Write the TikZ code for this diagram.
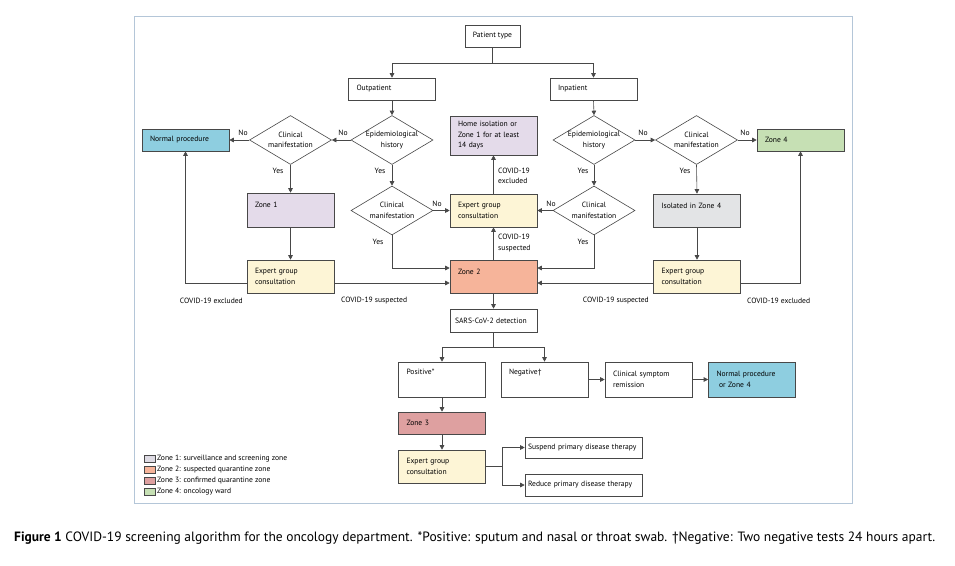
\documentclass[tikz,border=0pt]{standalone}
\usepackage{fontspec}
\setmainfont{PT Sans}
\usetikzlibrary{shapes.geometric,arrows.meta}

\definecolor{zoneone}{RGB}{228,219,234}
\definecolor{zonetwo}{RGB}{246,180,154}
\definecolor{zonethree}{RGB}{222,160,160}
\definecolor{zonefour}{RGB}{198,224,180}
\definecolor{normal}{RGB}{142,206,224}
\definecolor{expert}{RGB}{253,245,214}
\definecolor{isolated}{RGB}{227,228,230}
\definecolor{legone}{RGB}{222,219,228}
\definecolor{framecol}{RGB}{180,198,216}
\definecolor{ink}{RGB}{72,72,72}

\tikzset{
  box/.style={draw=ink, fill=white, line width=0.6pt, rectangle, minimum height=22, inner xsep=8, inner ysep=0, align=left},
  wbox/.style={box, text width=71, minimum width=87},
  upper/.style={text depth=10pt},
  dia/.style={draw=ink, fill=white, line width=0.6pt, diamond, aspect=1.67, minimum width=82, minimum height=49, inner sep=0, align=center},
  arr/.style={draw=ink, line width=0.6pt, -{Triangle[length=4.5pt,width=4.5pt]}},
  lab/.style={inner sep=1, align=left},
  leg/.style={draw=ink, line width=0.5pt, minimum width=11, minimum height=7, inner sep=0}
}

\begin{document}
\begin{tikzpicture}[x=1pt, y=-1pt, font=\fontsize{7.6}{10.5}\selectfont]
    \useasboundingbox (0,0) rectangle (955,565);
    \draw[framecol, line width=0.8pt] (134,16) rectangle (852,503);

    \node[box] (pt) at (492.5,36) {Patient type};
    \node[wbox] (op) at (392,89) {Outpatient};
    \node[wbox] (ip) at (593.5,89) {Inpatient};
    \coordinate (pj) at (492.5,63);
    \draw[draw=ink, line width=0.6pt] (pt.south) -- (pj);
    \draw[arr] (pj) -| (op.north);
    \draw[arr] (pj) -| (ip.north);

    \node[dia] (e1) at (392,140) {Epidemiological\\history};
    \node[dia] (c1) at (290.5,140) {Clinical\\manifestation};
    \node[wbox, fill=normal] (np) at (185.5,140) {Normal procedure};
    \node[wbox, fill=zoneone, minimum height=34, upper] (z1) at (290.5,210) {Zone 1};
    \node[dia] (c2) at (392,210.5) {Clinical\\manifestation};
    \node[wbox, fill=expert, minimum height=33] (ex1) at (290.5,276.5) {Expert group\\consultation};
    \draw[arr] (op.south) -- (e1.north);
    \draw[arr] (e1.west) -- (c1.east);
    \draw[arr] (c1.west) -- (np.east);
    \draw[arr] (c1.south) -- (z1.north);
    \draw[arr] (e1.south) -- (c2.north);
    \draw[arr] (z1.south) -- (ex1.north);
    \node[lab] (n1) at (343,133) {No};
    \node[lab] (n2) at (243,133) {No};
    \node[lab] (y1) at (278,171) {Yes};
    \node[lab] (y2) at (380,171) {Yes};
    \node[lab] (y3) at (378,242) {Yes};

    \node[wbox, fill=zoneone, minimum height=39] (ho) at (493.5,135.5) {Home isolation or\\Zone 1 for at least\\14 days};
    \node[wbox, fill=expert, minimum height=33] (ex2) at (493.5,210.5) {Expert group\\consultation};
    \node[wbox, fill=zonetwo, minimum height=33, text depth=9pt] (z2) at (493.5,276.5) {Zone 2};
    \node[box, fill=white, text width=77, minimum width=87, inner xsep=5, minimum height=23] (sd) at (493.5,320.5) {SARS-CoV-2 detection};
    \draw[arr] (ex2.north) -- (ho.south);
    \draw[arr] (z2.north) -- (ex2.south);
    \draw[arr] (z2.south) -- (sd.north);
    \node[lab, anchor=west] (x1) at (497,176) {COVID-19\\excluded};
    \node[lab, anchor=west] (s1) at (497,243) {COVID-19\\suspected};
    \node[lab] (n3) at (437,204) {No};
    \node[lab] (n4) at (551,204) {No};
    \draw[arr] (c2.east) -- (ex2.west);
    \draw[arr] (c2.south) |- ([yshift=8.5pt]z2.west);
    \draw[arr] ([yshift=-6.5pt]ex1.east) -- ([yshift=-6.5pt]z2.west);
    \draw[arr] ([yshift=-6.5pt]ex1.west) -| (np.south);
    \node[lab, anchor=east] (x2) at (244,301) {COVID-19 excluded};
    \node[lab, anchor=west] (s2) at (340,301) {COVID-19 suspected};

    \node[dia] (e3) at (594,140) {Epidemiological\\history};
    \node[dia] (c3) at (696.5,140) {Clinical\\manifestation};
    \node[wbox, fill=zonefour] (z4) at (800.5,140) {Zone 4};
    \node[dia] (c4) at (594,210.5) {Clinical\\manifestation};
    \node[wbox, fill=isolated, minimum height=33, text depth=9pt] (iz) at (697,210.5) {Isolated in Zone 4};
    \node[wbox, fill=expert, minimum height=33] (ex3) at (697,276.5) {Expert group\\consultation};
    \draw[arr] (ip.south) -- (e3.north);
    \draw[arr] (e3.east) -- (c3.west);
    \draw[arr] (c3.east) -- (z4.west);
    \draw[arr] (e3.south) -- (c4.north);
    \draw[arr] (c3.south) -- (iz.north);
    \draw[arr] (iz.south) -- (ex3.north);
    \draw[arr] (c4.west) -- (ex2.east);
    \draw[arr] (c4.south) |- ([yshift=8.5pt]z2.east);
    \draw[arr] ([yshift=-6.5pt]ex3.west) -- ([yshift=-6.5pt]z2.east);
    \draw[arr] ([yshift=-6.5pt]ex3.east) -| (z4.south);
    \node[lab] (n5) at (643,133) {No};
    \node[lab] (n6) at (745,133) {No};
    \node[lab] (y4) at (583,171) {Yes};
    \node[lab] (y5) at (685,171) {Yes};
    \node[lab] (y6) at (583,242) {Yes};
    \node[lab, anchor=east] (s3) at (650,301) {COVID-19 suspected};
    \node[lab, anchor=west] (x3) at (746,301) {COVID-19 excluded};

    \node[wbox, minimum height=35, text depth=15pt] (pos) at (442,379.5) {Positive*};
    \node[wbox, minimum height=35, text depth=15pt] (neg) at (544.5,379.5) {Negative\textdagger};
    \node[wbox, minimum height=35] (rem) at (648.5,379.5) {Clinical symptom\\remission};
    \node[wbox, fill=normal, minimum height=35] (nz) at (752,379.5) {Normal procedure\\\ or Zone 4};
    \coordinate (sj) at (493.5,347);
    \draw[draw=ink, line width=0.6pt] (sd.south) -- (sj);
    \draw[arr] (sj) -| (pos.north);
    \draw[arr] (sj) -| (neg.north);
    \draw[arr] (neg.east) -- (rem.west);
    \draw[arr] (rem.east) -- (nz.west);

    \node[wbox, fill=zonethree] (z3) at (442,423) {Zone 3};
    \node[wbox, fill=expert, minimum height=33] (ex4) at (442,466.5) {Expert group\\consultation};
    \node[box, text width=111, minimum width=117, inner xsep=3, minimum height=21] (sus) at (583.5,447.5) {Suspend primary disease therapy};
    \node[box, text width=111, minimum width=117, inner xsep=3] (red) at (583.5,485) {Reduce primary disease therapy};
    \draw[arr] (pos.south) -- (z3.north);
    \draw[arr] (z3.south) -- (ex4.north);
    \coordinate (ej) at (502,466.5);
    \draw[draw=ink, line width=0.6pt] (ex4.east) -- (ej);
    \draw[arr] (ej) |- (sus.west);
    \draw[arr] (ej) |- (red.west);

    \node[leg, fill=legone] (l1) at (149.5,459) {};
    \node[leg, fill=zonetwo] (l2) at (149.5,470) {};
    \node[leg, fill=zonethree] (l3) at (149.5,481) {};
    \node[leg, fill=zonefour] (l4) at (149.5,492) {};
    \node[lab, anchor=west] (t1) at (156,459) {Zone 1: surveillance and screening zone};
    \node[lab, anchor=west] (t2) at (156,470) {Zone 2: suspected quarantine zone};
    \node[lab, anchor=west] (t3) at (156,481) {Zone 3: confirmed quarantine zone};
    \node[lab, anchor=west] (t4) at (156,492) {Zone 4: oncology ward};

    \node[anchor=west, inner sep=0, font=\fontsize{13.5}{16}\selectfont] (cap) at (14,538) {\textbf{Figure 1} COVID-19 screening algorithm for the oncology department. *Positive: sputum and nasal or throat swab. \textdagger Negative: Two negative tests 24 hours apart.};
\end{tikzpicture}
\end{document}
